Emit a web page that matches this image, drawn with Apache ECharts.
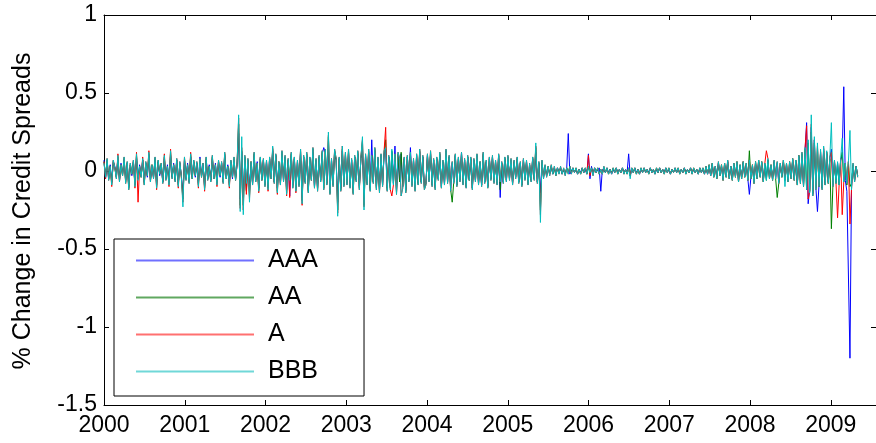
<!DOCTYPE html>
<html><head><meta charset="utf-8">
<script src="https://cdn.jsdelivr.net/npm/echarts@6/dist/echarts.min.js"></script>
<style>html,body{margin:0;padding:0;background:#fff}#c{width:876px;height:443px}</style>
</head><body><div id="c"></div>
<script>
// Weekly % change in credit spreads, values in hundredths (0.01 units), starting first week of 2000
const seriesNames = ['AAA', 'AA', 'A', 'BBB'];
const startYear = 2000;
const daysPerStep = 7;
const xTickYears = [2000, 2001, 2002, 2003, 2004, 2005, 2006, 2007, 2008, 2009];
const yTicks = [-1.5, -1, -0.5, 0, 0.5, 1];
const yLabel = '% Change in Credit Spreads';

const AAA = [
7,-5,6,-5,4,-7,6,3,-4,8,-6,5,-2,7,-6,5,-10,4,-3,6,-8,9,-5,4,-3,7,
-7,5,-4,10,-6,3,-4,8,-9,6,-3,4,-7,8,-5,4,-7,10,-4,5,-6,7,-8,5,-3,-15,
7,-5,5,-7,9,-4,6,-4,5,-8,9,-3,4,-10,7,-5,4,-6,8,-4,5,-7,6,-4,5,-7,
10,-4,4,-8,6,-5,7,-5,4,24,-18,12,-17,8,-12,7,-13,5,-8,10,-6,6,-11,8,-5,7,
-8,6,-10,8,-4,13,-7,10,-11,5,-8,11,-6,9,-12,7,-16,10,-9,8,-11,6,-9,12,-17,9,
-7,10,-12,8,-5,12,-10,7,-11,9,-6,11,15,12,-8,14,-12,7,-9,12,7,-20,8,-11,13,-9,
10,-8,12,-9,7,-12,9,-6,11,-10,8,15,-18,10,-8,12,-11,20,-7,13,-10,8,-12,10,-9,11,
14,-11,9,-10,12,-8,16,-13,10,-7,11,-10,8,-12,9,-6,15,-9,7,-11,10,-8,12,-7,9,-10,
-8,10,-6,11,-9,7,-10,8,-5,10,-10,6,-8,13,-7,9,-11,5,-7,10,-9,8,-6,12,-8,7,
-10,9,-5,8,-11,7,-6,10,-8,5,-9,10,-7,6,-10,8,-5,9,-7,6,-8,10,-17,5,-7,8,
-6,9,-5,7,-8,6,-4,8,-7,5,-9,7,-5,6,-8,4,-6,8,-5,12,-7,5,-14,6,-4,3,
-3,2,-2,3,-2,2,-2,2,-1,2,-2,1,-2,2,24,-2,-1,2,-1,1,-2,1,-1,2,-1,1,
-2,11,-5,3,-2,2,-1,-1,2,-13,1,2,-1,2,-1,1,-2,1,-1,2,-1,1,-1,2,-1,1,
-1,11,-3,1,-1,2,-1,1,-2,1,-1,2,-1,1,-1,2,-1,1,-2,1,-1,2,-1,1,-1,2,
-1,1,-2,1,-1,2,-1,1,-1,1,-1,2,-1,1,-1,2,-1,1,-1,1,-2,2,-1,1,-2,2,
-2,3,-3,4,-3,3,-4,5,-2,3,-5,4,-3,6,-4,3,-5,4,-3,5,-6,3,-4,5,-3,4,
-5,-15,-4,3,-7,5,-4,6,-3,5,-6,4,-5,7,-4,3,-5,6,-4,5,-7,4,-3,6,-5,4,
-6,5,-4,7,-5,6,-8,9,-7,10,-9,13,31,-21,-11,28,-15,20,-11,-26,-9,12,-11,14,-8,11,
-7,8,14,-9,6,-7,5,-8,7,10,54,-6,-13,-12,-120,-10,4,-6,3,-3
];

const AA = [
6,-4,7,-5,3,-8,6,2,-4,9,-6,4,-3,8,-7,5,-11,4,-2,6,-9,10,-5,3,-4,7,
-8,5,-3,11,-6,4,-4,8,-10,6,-2,5,-7,9,-5,3,-8,12,-4,4,-6,7,-9,5,-4,-18,
8,-5,4,-7,10,-5,6,-3,5,-9,7,-4,5,-11,8,-5,3,-6,9,-5,4,-8,6,-3,5,-7,
11,-5,3,-9,6,-4,8,-6,5,30,-22,13,-22,9,-13,7,-16,6,-8,11,-7,5,-12,8,-6,7,
-9,6,-11,8,-5,14,-7,10,-13,6,-8,12,-6,9,-14,7,-6,11,-10,8,-12,6,-9,13,-19,9,
-7,11,-13,8,-6,14,-10,7,-12,9,-6,12,-11,13,-8,22,-14,7,-9,13,7,-25,8,-12,14,-9,
11,-8,13,-10,7,-14,9,-6,12,-11,8,19,-22,10,-8,13,-12,10,-7,14,-11,8,-13,10,-9,12,
20,-12,9,-11,13,-8,10,-14,11,-7,12,-10,8,-13,9,-6,11,-9,7,-12,10,-8,13,-7,9,-11,
-8,10,-6,12,-9,7,-11,8,-5,11,-10,6,-8,13,-7,9,-12,-20,-7,10,-9,8,-6,11,-8,7,
-10,9,-6,8,-11,7,-6,10,-8,6,-9,11,-7,6,-10,8,-5,9,-7,6,-8,10,-12,5,-7,8,
-6,9,-5,7,-8,6,-4,8,-7,5,-9,7,-5,6,-8,4,-6,8,-5,15,-7,5,-25,6,-4,3,
-3,3,-2,3,-2,2,-3,2,-1,2,-2,1,-2,2,-1,3,-1,2,-1,2,-2,1,-2,2,-1,2,
-2,3,-2,2,-2,2,-1,2,-2,1,-2,2,-1,2,-2,1,-1,2,-1,2,-2,1,-1,2,-2,1,
-2,2,-3,2,-1,2,-2,1,-2,2,-1,2,-1,1,-2,2,-1,1,-2,2,-1,2,-1,1,-2,2,
-1,2,-2,1,-1,2,-1,2,-2,1,-1,2,-2,1,-1,2,-2,2,-1,1,-2,2,-1,2,-2,3,
-2,4,-3,5,-4,3,-5,5,-3,4,-6,5,-4,6,-5,3,-6,5,-4,6,-7,4,-5,6,-4,5,
-6,13,-5,4,-8,6,-5,7,-4,6,-7,5,-6,7,-5,4,-6,6,-5,-17,-8,5,-4,7,-6,5,
-7,6,-5,8,-6,7,-9,10,-8,11,-10,14,-12,18,-13,25,-14,18,-11,15,-10,12,-11,13,-9,12,
-8,8,-37,-9,6,-8,5,-9,7,12,-7,5,-9,6,-10,-8,4,-6,3,-3
];

const A = [
6,-5,8,-6,3,-10,7,2,-5,11,-7,4,-3,9,-8,6,-12,5,-2,7,-11,12,-20,3,-4,9,
-9,6,-3,13,-7,4,-5,9,-12,7,-2,5,-8,11,-6,3,-10,14,-5,4,-7,8,-11,6,-4,-20,
9,-6,4,-8,12,-5,7,-3,6,-11,8,-4,5,-13,9,-6,3,-7,10,-5,4,-10,7,-3,6,-8,
12,-5,3,-11,7,-4,9,-6,5,34,-24,15,-25,10,-15,8,-18,6,-9,12,-7,5,-14,9,-6,8,
-10,7,-13,9,-5,15,-8,11,-15,6,-9,13,-7,10,-16,8,-17,12,-11,9,-14,7,-10,14,-22,10,
-8,12,-14,9,-6,15,-11,8,-13,10,-7,13,-12,14,-9,23,-15,8,-10,14,8,-27,9,-13,16,-10,
12,-9,14,-11,8,-15,10,-7,13,-12,9,20,-23,11,-9,14,-13,10,-8,15,-12,9,-14,11,-10,13,
28,-13,10,-12,-16,-9,11,-15,12,8,-16,-11,9,-14,10,-7,12,-10,8,-13,11,-9,14,-8,10,-12,
-9,11,-7,13,-10,8,-12,9,-6,12,-11,7,-9,14,-8,10,-13,6,-8,11,-10,9,-7,12,-9,8,
-11,10,-6,9,-12,8,-7,11,-9,6,-10,12,-8,7,-11,9,-6,10,-8,7,-9,11,-7,6,-8,9,
-7,10,-6,8,-9,7,-5,9,-8,6,-10,8,-6,7,-9,5,-7,9,-6,16,-8,6,-28,7,-5,4,
-4,3,-3,4,-2,3,-3,2,-2,3,-2,2,-3,2,-2,3,-2,2,-1,2,-2,1,-2,2,-1,2,
-2,10,-3,2,-3,2,-1,2,-2,1,-2,3,-1,2,-2,1,-2,2,-1,2,-2,1,-1,2,-2,1,
-2,2,-3,2,-1,2,-2,1,-2,2,-1,2,-1,1,-2,2,-1,1,-2,2,-1,2,-1,1,-2,2,
-1,2,-2,1,-1,2,-1,2,-2,1,-1,2,-2,1,-1,2,-2,2,-1,1,-2,2,-1,2,-2,3,
-2,4,-3,5,-4,3,-5,6,-3,4,-6,5,-4,7,-5,3,-6,5,-4,6,-7,4,-5,6,-4,5,
-6,7,-5,4,-8,6,-5,7,-4,6,-7,5,13,8,-5,4,-6,7,-5,6,-8,5,-4,7,-6,5,
-7,6,-5,8,-6,7,-9,10,-8,12,-10,15,29,-18,-13,30,-16,20,-12,16,-10,13,-12,15,-9,12,
-8,9,12,-10,7,-8,-30,-9,8,-28,-7,5,-8,6,-34,-12,5,-7,3,-4
];

const BBB = [
5,-4,8,-6,3,-9,7,2,-5,10,-7,4,-3,9,-8,6,-12,5,-2,7,-10,11,-6,3,-4,8,
-9,6,-3,12,-7,4,-5,9,-11,7,-2,5,-8,10,-6,3,-9,13,-5,4,-7,8,-10,6,-4,-23,
9,-6,4,-8,11,-5,7,-3,6,-10,8,-4,5,-12,9,-6,3,-7,10,-5,4,-9,7,-3,6,-8,
12,-5,3,-10,7,-4,9,-6,5,36,-26,22,-28,10,-8,8,-20,6,-9,12,-7,5,-13,9,-6,8,
-10,7,-12,9,-5,16,-8,11,-14,6,-9,13,-7,10,-15,8,-6,12,-11,9,-13,7,-10,14,-21,10,
-8,12,-14,9,-6,15,-11,8,-13,10,-7,13,-12,14,-9,25,-15,8,-10,14,8,-29,9,-13,16,-10,
12,-9,14,-11,8,-15,10,-7,13,-12,9,22,-25,11,-9,14,-13,10,-8,15,-12,9,-14,11,-10,13,
15,-13,10,-12,14,-9,11,-15,12,8,-16,-11,9,-14,10,-7,12,-10,8,-13,11,-9,14,-8,10,-12,
-9,11,-7,13,-10,8,-12,9,-6,12,-11,7,-9,14,-8,10,-13,6,-8,11,-10,9,-7,12,-9,8,
-11,10,-6,9,-12,8,-7,11,-9,6,-10,12,-8,7,-11,9,-6,10,-8,7,-9,11,-7,6,-8,9,
-7,10,-6,8,-9,7,-5,9,-8,6,-10,8,-6,7,-9,5,-7,9,-6,18,-8,6,-33,7,-5,4,
-4,3,-3,4,-2,3,-3,2,-2,3,-2,2,-3,2,-2,3,-2,2,-1,2,-2,1,-2,2,-1,2,
-2,3,-1,2,-3,2,-1,2,-2,1,-2,3,-1,2,-2,1,-2,2,-1,2,-2,1,-1,2,-2,1,
-2,2,-5,2,-1,2,-2,1,-2,2,-1,2,-1,1,-2,2,-1,1,-2,2,-1,2,-1,1,-2,2,
-1,2,-2,1,-1,2,-1,2,-2,1,-1,2,-2,1,-1,2,-2,2,-1,1,-2,2,-1,2,-2,3,
-2,4,-3,5,-4,3,-5,6,-3,4,-6,5,-4,7,-5,3,-6,5,-4,6,-7,4,-5,6,-4,5,
-6,7,-5,4,-8,6,-5,7,-4,6,-7,5,-6,8,-5,4,-6,7,-5,6,-8,5,-4,7,-10,5,
-7,6,-5,8,-6,7,-9,10,-8,12,-10,15,-12,20,-14,36,-16,22,-12,18,-10,14,-12,16,-9,13,
-8,9,31,-10,7,-8,6,-9,8,21,-7,5,-8,6,26,-12,5,-7,3,-4
];

const colors = ['#0000ff', '#008000', '#ff0000', '#00bfbf'];
const legendColors = ['#7070ff', '#60a860', '#ff7070', '#70d8d8'];
const FONT = "'Liberation Sans', Arial, sans-serif";

const toPoints = arr => arr.map((v, i) => [startYear + i * daysPerStep / 365.25, v / 100]);
const allData = [AAA, AA, A, BBB];

const chart = echarts.init(document.getElementById('c'), null, {renderer: 'canvas'});
const axisCommon = {
  axisLine: {show: true, onZero: false, lineStyle: {color: '#000', width: 1}},
  axisTick: {show: true, inside: true, length: 5, lineStyle: {color: '#000', width: 1}},
  splitLine: {show: false},
};
chart.setOption({
  animation: false,
  backgroundColor: '#fff',
  grid: {left: 104, right: 0, top: 15, bottom: 38, outerBoundsMode: 'none', containLabel: false},
  xAxis: [
    Object.assign({}, axisCommon, {
      type: 'value', position: 'bottom', min: xTickYears[0], max: 2009.56, interval: 1,
      axisLabel: {color: '#000', fontSize: 23, fontFamily: FONT, margin: 9,
        formatter: v => xTickYears.includes(Math.round(v * 1000) / 1000) ? String(Math.round(v)) : ''}
    }),
    Object.assign({}, axisCommon, {
      type: 'value', position: 'top', min: xTickYears[0], max: 2009.56, interval: 1,
      axisLabel: {show: false}
    })
  ],
  yAxis: [
    Object.assign({}, axisCommon, {
      type: 'value', position: 'left', min: yTicks[0], max: yTicks[yTicks.length - 1], interval: 0.5,
      axisLabel: {color: '#000', fontSize: 23, fontFamily: FONT, margin: 7}
    }),
    Object.assign({}, axisCommon, {
      type: 'value', position: 'right', min: yTicks[0], max: yTicks[yTicks.length - 1], interval: 0.5,
      axisLabel: {show: false}
    })
  ],
  legend: {
    orient: 'vertical', left: 114, top: 239,
    padding: [9, 46, 12, 22],
    itemGap: 12, itemWidth: 118, itemHeight: 2,
    backgroundColor: '#fff', borderColor: '#000', borderWidth: 1, borderRadius: 0,
    selectedMode: false,
    textStyle: {color: '#000', fontSize: 25, fontFamily: FONT, padding: [0, 0, 0, 9]},
    data: seriesNames.map((n, k) => ({name: n, icon: 'rect', itemStyle: {color: legendColors[k], borderWidth: 0}}))
  },
  graphic: [{
    type: 'text', x: 23, y: 211, rotation: Math.PI / 2,
    style: {text: yLabel, font: "25px 'Liberation Sans', Arial, sans-serif", fill: '#000',
      textAlign: 'center', textVerticalAlign: 'middle'}
  }],
  series: seriesNames.map((n, k) => ({
    name: n, type: 'line', xAxisIndex: 0, yAxisIndex: 0,
    data: toPoints(allData[k]), showSymbol: false, symbol: 'none',
    lineStyle: {color: colors[k], width: 1}, itemStyle: {color: colors[k]},
    clip: true, z: 2 + k
  }))
});
</script></body></html>
